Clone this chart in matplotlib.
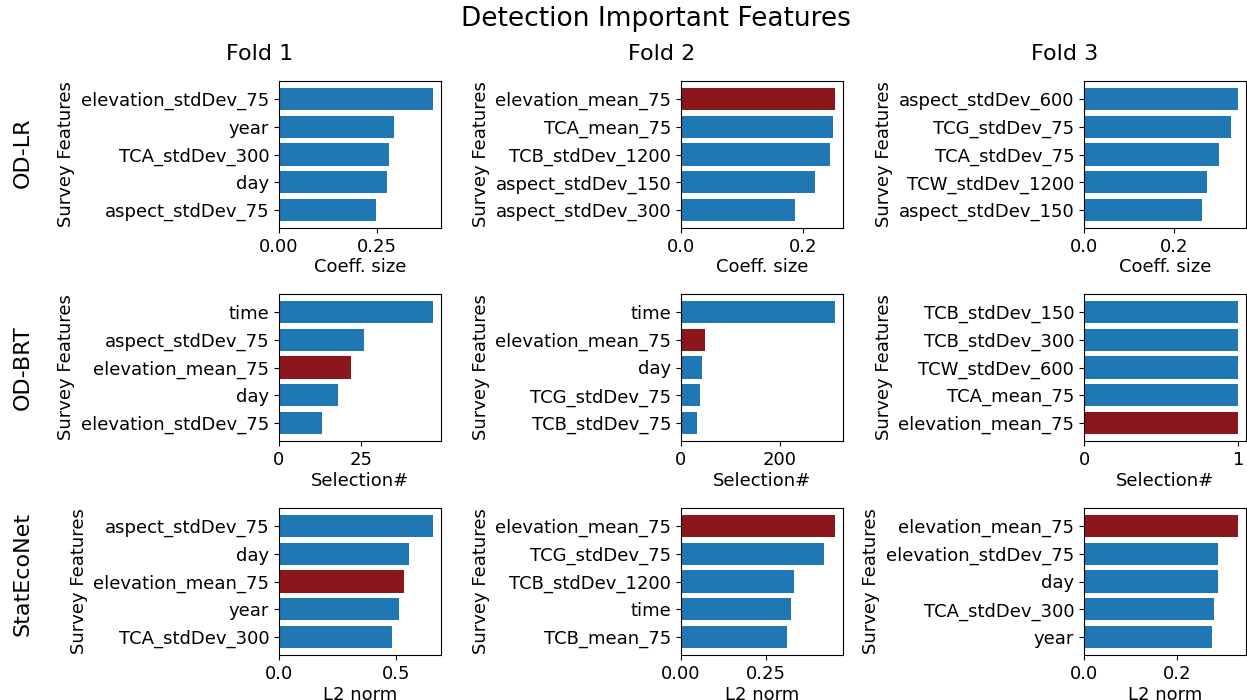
import numpy as np
import matplotlib
matplotlib.use('Agg')
import matplotlib.pyplot as plt

# top-5 features per model / fold (largest first)
folds = ['Fold 1', 'Fold 2', 'Fold 3']
models = ['OD-LR', 'OD-BRT', 'StatEcoNet']
xlabels = ['Coeff. size', 'Selection#', 'L2 norm']

odlr_features = [
    ['elevation_stdDev_75', 'year', 'TCA_stdDev_300', 'day', 'aspect_stdDev_75'],
    ['elevation_mean_75', 'TCA_mean_75', 'TCB_stdDev_1200', 'aspect_stdDev_150', 'aspect_stdDev_300'],
    ['aspect_stdDev_600', 'TCG_stdDev_75', 'TCA_stdDev_75', 'TCW_stdDev_1200', 'aspect_stdDev_150'],
]
odlr_values = [
    [0.394, 0.294, 0.282, 0.276, 0.247],
    [0.2535, 0.250, 0.244, 0.220, 0.187],
    [0.344, 0.328, 0.302, 0.275, 0.262],
]

odbrt_features = [
    ['time', 'aspect_stdDev_75', 'elevation_mean_75', 'day', 'elevation_stdDev_75'],
    ['time', 'elevation_mean_75', 'day', 'TCG_stdDev_75', 'TCB_stdDev_75'],
    ['TCB_stdDev_150', 'TCB_stdDev_300', 'TCW_stdDev_600', 'TCA_mean_75', 'elevation_mean_75'],
]
odbrt_values = [
    [47, 26, 22, 18, 13],
    [312, 49, 43, 38, 33],
    [1, 1, 1, 1, 1],
]

sen_features = [
    ['aspect_stdDev_75', 'day', 'elevation_mean_75', 'year', 'TCA_stdDev_300'],
    ['elevation_mean_75', 'TCG_stdDev_75', 'TCB_stdDev_1200', 'time', 'TCB_mean_75'],
    ['elevation_mean_75', 'elevation_stdDev_75', 'day', 'TCA_stdDev_300', 'year'],
]
sen_values = [
    [0.660, 0.557, 0.536, 0.515, 0.485],
    [0.455, 0.423, 0.334, 0.325, 0.314],
    [0.332, 0.289, 0.289, 0.280, 0.276],
]

highlight = 'elevation_mean_75'

all_features = [odlr_features, odbrt_features, sen_features]
all_values = [odlr_values, odbrt_values, sen_values]

W, H = 1247, 700
fig = plt.figure(figsize=(W / 100, H / 100), dpi=100)

lefts = [279, 681, 1084]
tops = [81, 294, 508]
aw, ah = 162, 147
row_label_y = [153, 368, 574]

for r in range(3):
    for c in range(3):
        ax = fig.add_axes([lefts[c] / W, 1 - (tops[r] + ah) / H, aw / W, ah / H])
        feats = all_features[r][c][::-1]
        vals = all_values[r][c][::-1]
        cols = ['#8b161c' if f == highlight else '#1f77b4' for f in feats]
        y = np.arange(len(feats))
        ax.barh(y, vals, color=cols)
        ax.set_yticks(y)
        ax.set_yticklabels(feats)
        ax.tick_params(labelsize=13)
        ax.set_xlabel(xlabels[r], fontsize=13, labelpad=2)
        ax.set_ylabel('Survey Features', fontsize=13)

# titles
fig.text(656 / W, 1 - 19 / H, 'Detection Important Features', fontsize=19,
         ha='center', va='center')
for c, name in enumerate(folds):
    fig.text((lefts[c] - 100 + aw / 2) / W, 1 - 54 / H, name, fontsize=16,
             ha='center', va='center')
for r, name in enumerate(models):
    fig.text(23 / W, 1 - row_label_y[r] / H, name, fontsize=16,
             ha='center', va='center', rotation=90)

fig.savefig('out.png', dpi=100)
